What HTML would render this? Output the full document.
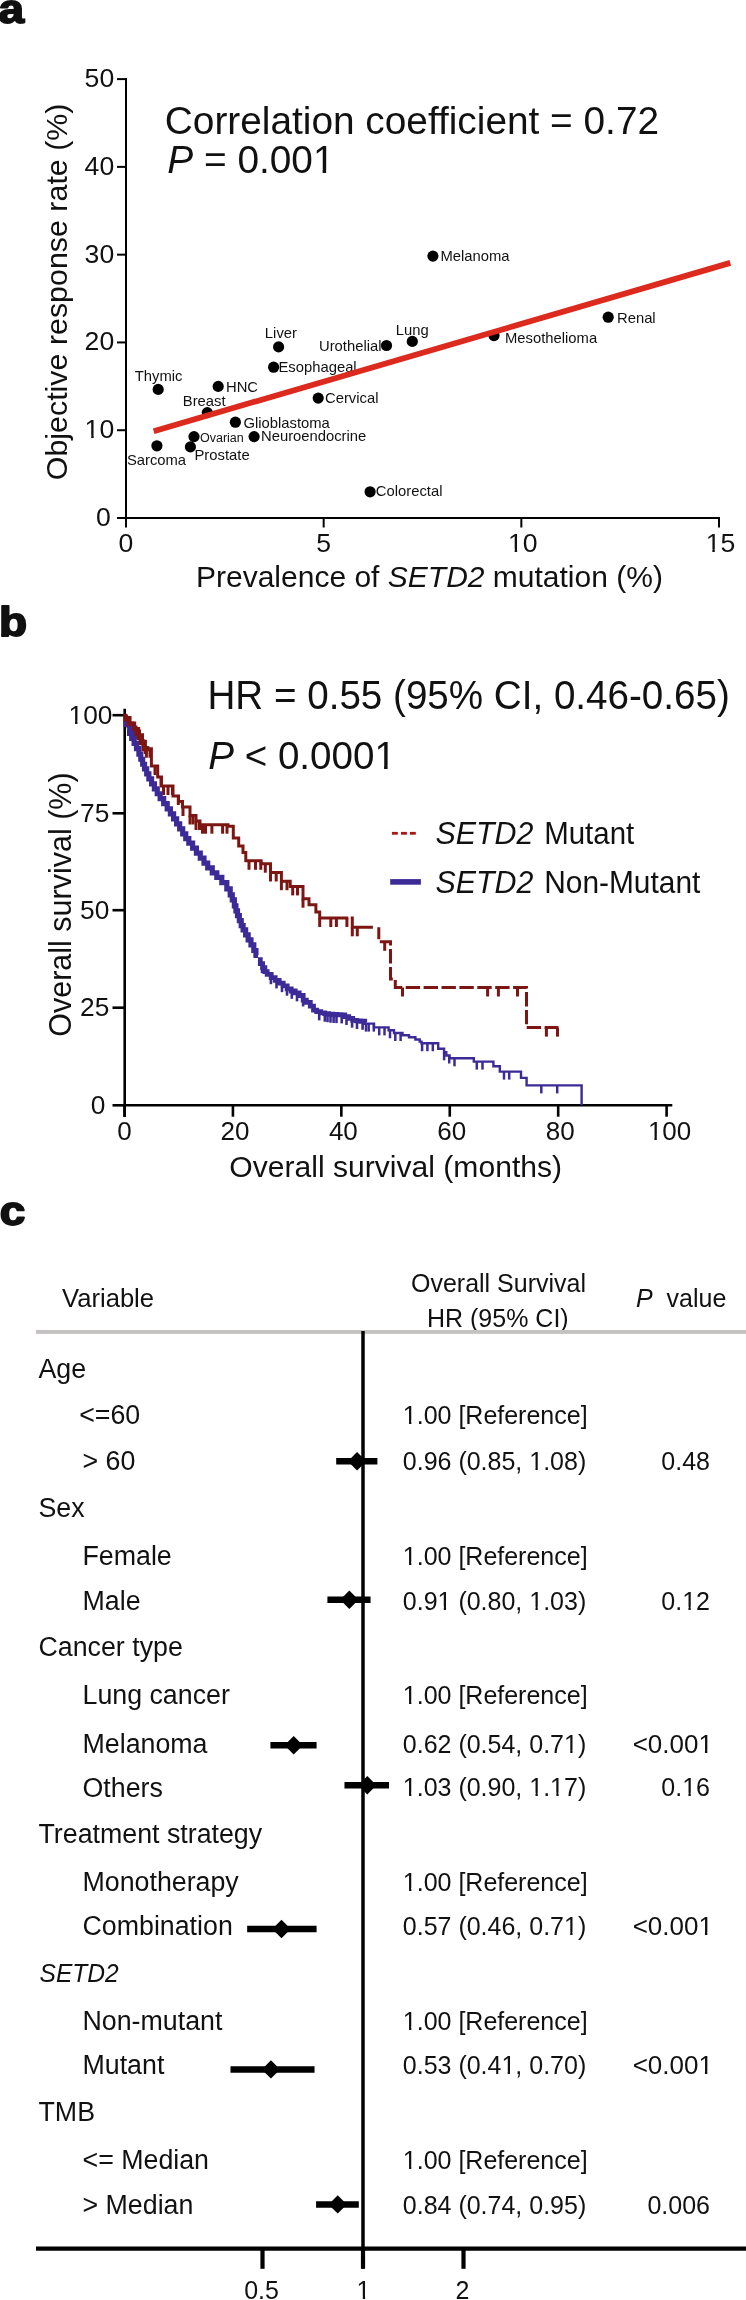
<!DOCTYPE html>
<html><head><meta charset="utf-8"><style>
html,body{margin:0;padding:0;background:#fff;width:746px;height:2300px;overflow:hidden}
svg{display:block;will-change:transform}
text{font-family:"Liberation Sans",sans-serif}
</style></head><body>
<svg width="746" height="2300" viewBox="0 0 746 2300" font-family="Liberation Sans, sans-serif" fill="#111"><text transform="translate(-1.5,22.5) scale(1.13,1)" font-size="40.7" font-weight="bold" stroke="#111" stroke-width="1.8" stroke-linejoin="round" fill="#111">a</text>
<text transform="translate(-0.9,636) scale(1.13,1)" font-size="40.7" font-weight="bold" stroke="#111" stroke-width="1.8" stroke-linejoin="round" fill="#111">b</text>
<text transform="translate(-0.3,1224.6) scale(1.13,1)" font-size="40.7" font-weight="bold" stroke="#111" stroke-width="1.8" stroke-linejoin="round" fill="#111">c</text>
<line x1="126" y1="78.1" x2="126" y2="519" stroke="#000" stroke-width="2" />
<line x1="125" y1="518" x2="720" y2="518" stroke="#000" stroke-width="2" />
<line x1="117" y1="518.0" x2="126" y2="518.0" stroke="#000" stroke-width="2" />
<text transform="translate(110.9,526.0) scale(1.0,1)" font-size="26.6" text-anchor="end" >0</text>
<line x1="117" y1="430.22" x2="126" y2="430.22" stroke="#000" stroke-width="2" />
<text transform="translate(114.2,438.22) scale(1.0,1)" font-size="26.6" text-anchor="end" >10</text>
<line x1="117" y1="342.44000000000005" x2="126" y2="342.44000000000005" stroke="#000" stroke-width="2" />
<text transform="translate(114.2,350.44000000000005) scale(1.0,1)" font-size="26.6" text-anchor="end" >20</text>
<line x1="117" y1="254.66000000000003" x2="126" y2="254.66000000000003" stroke="#000" stroke-width="2" />
<text transform="translate(114.2,262.66) scale(1.0,1)" font-size="26.6" text-anchor="end" >30</text>
<line x1="117" y1="166.88000000000005" x2="126" y2="166.88000000000005" stroke="#000" stroke-width="2" />
<text transform="translate(114.2,174.88000000000005) scale(1.0,1)" font-size="26.6" text-anchor="end" >40</text>
<line x1="117" y1="79.10000000000008" x2="126" y2="79.10000000000008" stroke="#000" stroke-width="2" />
<text transform="translate(114.2,87.10000000000008) scale(1.0,1)" font-size="26.6" text-anchor="end" >50</text>
<line x1="126.0" y1="517" x2="126.0" y2="527.5" stroke="#000" stroke-width="2" />
<text transform="translate(126.0,552) scale(1.0,1)" font-size="26.6" text-anchor="middle" >0</text>
<line x1="323.66666666666663" y1="517" x2="323.66666666666663" y2="527.5" stroke="#000" stroke-width="2" />
<text transform="translate(323.66666666666663,552) scale(1.0,1)" font-size="26.6" text-anchor="middle" >5</text>
<line x1="521.3333333333333" y1="517" x2="521.3333333333333" y2="527.5" stroke="#000" stroke-width="2" />
<text transform="translate(522.8333333333333,552) scale(1.0,1)" font-size="26.6" text-anchor="middle" >10</text>
<line x1="719.0" y1="517" x2="719.0" y2="527.5" stroke="#000" stroke-width="2" />
<text transform="translate(720.5,552) scale(1.0,1)" font-size="26.6" text-anchor="middle" >15</text>
<text transform="translate(164.8,133.8) scale(1.0,1)" font-size="38.8" >Correlation coefficient = 0.72</text>
<text transform="translate(167.3,173.3) scale(1.0,1)" font-size="38.8" ><tspan font-style="italic">P</tspan> = 0.001</text>
<text transform="translate(196,586.7) scale(1.0,1)" font-size="30.0" >Prevalence of <tspan font-style="italic">SETD2</tspan> mutation (%)</text>
<text transform="translate(66.6,291.9) rotate(-90)" font-size="30.4" text-anchor="middle">Objective response rate (%)</text>
<circle cx="158.2" cy="389.4" r="5.6" fill="#000"/>
<text transform="translate(158.6,380.8) scale(1.0,1)" font-size="14.8" text-anchor="middle" >Thymic</text>
<circle cx="156.9" cy="445.8" r="5.6" fill="#000"/>
<text transform="translate(156.5,465.1) scale(1.0,1)" font-size="14.8" text-anchor="middle" >Sarcoma</text>
<circle cx="218.2" cy="386.4" r="5.6" fill="#000"/>
<text transform="translate(226,391.5) scale(1.0,1)" font-size="14.8" >HNC</text>
<circle cx="207.3" cy="412.6" r="5.6" fill="#000"/>
<text transform="translate(204.2,406.1) scale(1.0,1)" font-size="14.8" text-anchor="middle" >Breast</text>
<circle cx="194" cy="436.6" r="5.6" fill="#000"/>
<text transform="translate(200,442.2) scale(1.0,1)" font-size="12.5" >Ovarian</text>
<circle cx="190.4" cy="446.9" r="5.6" fill="#000"/>
<text transform="translate(194.5,460.2) scale(1.0,1)" font-size="14.8" >Prostate</text>
<circle cx="235.4" cy="422.2" r="5.6" fill="#000"/>
<text transform="translate(243.5,427.5) scale(1.0,1)" font-size="14.8" >Glioblastoma</text>
<circle cx="254.1" cy="436.6" r="5.6" fill="#000"/>
<text transform="translate(261,441.4) scale(1.0,1)" font-size="14.8" >Neuroendocrine</text>
<circle cx="278.6" cy="346.9" r="5.6" fill="#000"/>
<text transform="translate(280.9,337.8) scale(1.0,1)" font-size="14.8" text-anchor="middle" >Liver</text>
<circle cx="273.6" cy="367.2" r="5.6" fill="#000"/>
<text transform="translate(278.5,372) scale(1.0,1)" font-size="14.8" >Esophageal</text>
<circle cx="318.2" cy="398.1" r="5.6" fill="#000"/>
<text transform="translate(325,402.9) scale(1.0,1)" font-size="14.8" >Cervical</text>
<circle cx="370.1" cy="491.8" r="5.6" fill="#000"/>
<text transform="translate(375.8,496.4) scale(1.0,1)" font-size="14.8" >Colorectal</text>
<circle cx="386.5" cy="345.5" r="5.6" fill="#000"/>
<text transform="translate(381.5,350.5) scale(1.0,1)" font-size="14.8" text-anchor="end" >Urothelial</text>
<circle cx="412.3" cy="341.4" r="5.6" fill="#000"/>
<text transform="translate(412.2,335.3) scale(1.0,1)" font-size="14.8" text-anchor="middle" >Lung</text>
<circle cx="494" cy="335.6" r="5.6" fill="#000"/>
<text transform="translate(505,343) scale(1.0,1)" font-size="14.8" >Mesothelioma</text>
<circle cx="608.2" cy="317.2" r="5.6" fill="#000"/>
<text transform="translate(617,322.7) scale(1.0,1)" font-size="14.8" >Renal</text>
<circle cx="432.9" cy="256.1" r="5.6" fill="#000"/>
<text transform="translate(440.5,260.9) scale(1.0,1)" font-size="14.8" >Melanoma</text>
<line x1="153.7" y1="431.2" x2="730.3" y2="262.9" stroke="#dc2a1e" stroke-width="5.8"/>
<text transform="translate(207.5,709) scale(0.9709,1)" font-size="39.76" >HR = 0.55 (95% CI, 0.46-0.65)</text>
<text transform="translate(208.2,769.3) scale(1.0,1)" font-size="38.6" ><tspan font-style="italic">P</tspan> &lt; 0.0001</text>
<line x1="124.7" y1="708.8" x2="124.7" y2="1117" stroke="#000" stroke-width="2.6" />
<line x1="123.4" y1="1105.3" x2="672.3" y2="1105.3" stroke="#000" stroke-width="2.6" />
<line x1="112.5" y1="715.2" x2="124.7" y2="715.2" stroke="#000" stroke-width="2.6" />
<text transform="translate(112.4,723.6) scale(1.0,1)" font-size="26.3" text-anchor="end" >100</text>
<line x1="112.5" y1="813.3" x2="124.7" y2="813.3" stroke="#000" stroke-width="2.6" />
<text transform="translate(109.3,821.6999999999999) scale(1.0,1)" font-size="26.3" text-anchor="end" >75</text>
<line x1="112.5" y1="910.2" x2="124.7" y2="910.2" stroke="#000" stroke-width="2.6" />
<text transform="translate(109.3,918.6) scale(1.0,1)" font-size="26.3" text-anchor="end" >50</text>
<line x1="112.5" y1="1007.7" x2="124.7" y2="1007.7" stroke="#000" stroke-width="2.6" />
<text transform="translate(109.3,1016.1) scale(1.0,1)" font-size="26.3" text-anchor="end" >25</text>
<line x1="112.5" y1="1105.3" x2="124.7" y2="1105.3" stroke="#000" stroke-width="2.6" />
<text transform="translate(105.4,1113.7) scale(1.0,1)" font-size="26.3" text-anchor="end" >0</text>
<line x1="124.5" y1="1104" x2="124.5" y2="1116.7" stroke="#000" stroke-width="2.6" />
<text transform="translate(124.5,1140.4) scale(1.0,1)" font-size="26.0" text-anchor="middle" >0</text>
<line x1="232.92000000000002" y1="1104" x2="232.92000000000002" y2="1116.7" stroke="#000" stroke-width="2.6" />
<text transform="translate(234.92000000000002,1140.4) scale(1.0,1)" font-size="26.0" text-anchor="middle" >20</text>
<line x1="341.34000000000003" y1="1104" x2="341.34000000000003" y2="1116.7" stroke="#000" stroke-width="2.6" />
<text transform="translate(343.34000000000003,1140.4) scale(1.0,1)" font-size="26.0" text-anchor="middle" >40</text>
<line x1="449.76" y1="1104" x2="449.76" y2="1116.7" stroke="#000" stroke-width="2.6" />
<text transform="translate(451.76,1140.4) scale(1.0,1)" font-size="26.0" text-anchor="middle" >60</text>
<line x1="558.1800000000001" y1="1104" x2="558.1800000000001" y2="1116.7" stroke="#000" stroke-width="2.6" />
<text transform="translate(560.1800000000001,1140.4) scale(1.0,1)" font-size="26.0" text-anchor="middle" >80</text>
<line x1="666.6" y1="1104" x2="666.6" y2="1116.7" stroke="#000" stroke-width="2.6" />
<text transform="translate(669.6,1140.4) scale(1.0,1)" font-size="26.0" text-anchor="middle" >100</text>
<path d="M124.70,718.75 H128.80 V724.25 H133.42 V729.84 H137.35 V735.98 H141.28 V742.54 H144.19 V748.69 H146.55 V751.28 H147.50" fill="none" stroke="#7d1612" stroke-width="5.5" stroke-linejoin="miter"/>
<path d="M124.7,716 H126.5 V719.5 H129.5 V723 H132.5 V727 H136 V731 H139.5 V736 H142 V741 H143.5 V748.7 H151.4 V766 H157.7 V777 H161.5 V786 H173 V796 H178.5 V801.5 H182.5 V807 H190 V815.5 H196 V821 H200 V824.7 H228 V826.3 H233.3 V838 H238.7 V846 H243 V852.5 H245.8 V860.8 H261.1 V863.7 H270.5 V872.5 H281.4 V881.2 H290.2 V886.4 H303 V898.7 H309 V904.7 H315.9 V912 H319.7 V918 H348.3 M350.7,918 H352.3 V927.3 H372.9" fill="none" stroke="#7d1612" stroke-width="3" stroke-linejoin="miter"/>
<path d="M378.8,927.3 V941.8 H390.5 V979 H395.3 V987.5 H526.5 V1027.6 H558.4" fill="none" stroke="#7d1612" stroke-width="3" stroke-dasharray="14.4 3.5" stroke-dashoffset="2.4" stroke-linejoin="miter"/>
<line x1="128" y1="719.5" x2="128" y2="728.5" stroke="#7d1612" stroke-width="3" />
<line x1="131" y1="723" x2="131" y2="732" stroke="#7d1612" stroke-width="3" />
<line x1="134" y1="727" x2="134" y2="736" stroke="#7d1612" stroke-width="3" />
<line x1="138" y1="731" x2="138" y2="740" stroke="#7d1612" stroke-width="3" />
<line x1="146.4" y1="748.7" x2="146.4" y2="757.7" stroke="#7d1612" stroke-width="3" />
<line x1="150" y1="748.7" x2="150" y2="757.7" stroke="#7d1612" stroke-width="3" />
<line x1="155" y1="766" x2="155" y2="775" stroke="#7d1612" stroke-width="3" />
<line x1="161" y1="777" x2="161" y2="786" stroke="#7d1612" stroke-width="3" />
<line x1="163.5" y1="786" x2="163.5" y2="795" stroke="#7d1612" stroke-width="3" />
<line x1="168" y1="786" x2="168" y2="795" stroke="#7d1612" stroke-width="3" />
<line x1="172.5" y1="786" x2="172.5" y2="795" stroke="#7d1612" stroke-width="3" />
<line x1="178.3" y1="796" x2="178.3" y2="805" stroke="#7d1612" stroke-width="3" />
<line x1="183" y1="807" x2="183" y2="816" stroke="#7d1612" stroke-width="3" />
<line x1="190" y1="815.5" x2="190" y2="824.5" stroke="#7d1612" stroke-width="3" />
<line x1="193" y1="815.5" x2="193" y2="824.5" stroke="#7d1612" stroke-width="3" />
<line x1="196" y1="821" x2="196" y2="830" stroke="#7d1612" stroke-width="3" />
<line x1="199.5" y1="821" x2="199.5" y2="830" stroke="#7d1612" stroke-width="3" />
<line x1="202.5" y1="824.7" x2="202.5" y2="833.7" stroke="#7d1612" stroke-width="3" />
<line x1="205.5" y1="824.7" x2="205.5" y2="833.7" stroke="#7d1612" stroke-width="3" />
<line x1="211.9" y1="824.7" x2="211.9" y2="833.7" stroke="#7d1612" stroke-width="3" />
<line x1="222.6" y1="824.7" x2="222.6" y2="833.7" stroke="#7d1612" stroke-width="3" />
<line x1="227" y1="824.7" x2="227" y2="833.7" stroke="#7d1612" stroke-width="3" />
<line x1="249" y1="860.8" x2="249" y2="869.8" stroke="#7d1612" stroke-width="3" />
<line x1="255.5" y1="860.8" x2="255.5" y2="869.8" stroke="#7d1612" stroke-width="3" />
<line x1="260.8" y1="860.8" x2="260.8" y2="869.8" stroke="#7d1612" stroke-width="3" />
<line x1="265.3" y1="863.7" x2="265.3" y2="872.7" stroke="#7d1612" stroke-width="3" />
<line x1="270.5" y1="872.5" x2="270.5" y2="881.5" stroke="#7d1612" stroke-width="3" />
<line x1="276.2" y1="872.5" x2="276.2" y2="881.5" stroke="#7d1612" stroke-width="3" />
<line x1="281.4" y1="881.2" x2="281.4" y2="890.2" stroke="#7d1612" stroke-width="3" />
<line x1="287" y1="881.2" x2="287" y2="890.2" stroke="#7d1612" stroke-width="3" />
<line x1="292.7" y1="886.4" x2="292.7" y2="895.4" stroke="#7d1612" stroke-width="3" />
<line x1="297.5" y1="886.4" x2="297.5" y2="895.4" stroke="#7d1612" stroke-width="3" />
<line x1="303" y1="898.7" x2="303" y2="907.7" stroke="#7d1612" stroke-width="3" />
<line x1="319.7" y1="918" x2="319.7" y2="927" stroke="#7d1612" stroke-width="3" />
<line x1="330.8" y1="918" x2="330.8" y2="927" stroke="#7d1612" stroke-width="3" />
<line x1="336.4" y1="918" x2="336.4" y2="927" stroke="#7d1612" stroke-width="3" />
<line x1="346.9" y1="918" x2="346.9" y2="927" stroke="#7d1612" stroke-width="3" />
<line x1="352.3" y1="927.3" x2="352.3" y2="936.3" stroke="#7d1612" stroke-width="3" />
<line x1="357.3" y1="927.3" x2="357.3" y2="936.3" stroke="#7d1612" stroke-width="3" />
<line x1="384.7" y1="941.8" x2="384.7" y2="950.8" stroke="#7d1612" stroke-width="3" />
<line x1="402.5" y1="987.5" x2="402.5" y2="996.5" stroke="#7d1612" stroke-width="3" />
<line x1="487.6" y1="987.5" x2="487.6" y2="996.5" stroke="#7d1612" stroke-width="3" />
<line x1="498.4" y1="987.5" x2="498.4" y2="996.5" stroke="#7d1612" stroke-width="3" />
<line x1="517.5" y1="987.5" x2="517.5" y2="996.5" stroke="#7d1612" stroke-width="3" />
<line x1="546.4" y1="1027.6" x2="546.4" y2="1036.6" stroke="#7d1612" stroke-width="3" />
<line x1="557.5" y1="1027.6" x2="557.5" y2="1036.6" stroke="#7d1612" stroke-width="3" />
<path d="M127.50,728.50 H129.61 V733.50 H131.71 V738.44 H134.11 V743.44 H136.51 V748.56 H138.91 V754.26 H140.79 V759.26 H142.66 V764.23 H144.54 V768.90 H146.70 V773.90 H148.86 V778.86 H151.58 V783.79 H154.38 V788.78 H157.26 V793.76 H160.15 V798.71 H163.68 V803.71 H167.20 V808.79 H170.39 V813.79 H173.58 V818.80 H176.63 V823.80 H179.67 V828.80 H182.72 V833.80 H185.77 V838.64 H188.81 V843.14 H192.62 V848.13 H196.42 V853.10 H200.28 V858.10 H204.00 V863.10 H207.72 V867.83 H212.27 V872.83 H216.82 V877.46 H221.82 V882.71 H226.82 V888.89 H230.21 V894.83 H232.29 V899.94 H234.38 V905.80 H235.93 V910.80 H237.48 V915.64 H239.35 V920.64 H241.23 V925.53 H243.10 V929.89 H245.63 V934.89 H248.15 V939.79 H250.97 V944.79 H253.80 V950.49 H255.96 V955.35 H258.00" fill="none" stroke="#3c2b96" stroke-width="5.2" stroke-linejoin="miter"/>
<rect x="123.3" y="721.3" width="3.6" height="5.8" fill="#3c2b96"/>
<rect x="123.3" y="713.8" width="3.6" height="7.6" fill="#7d1612"/>
<path d="M258.00,959.70 H260.30 V963.70 H262.60 V967.70 H264.89 V971.70 H267.19 V974.31 H271.19 V977.56 H275.19 V980.40 H279.19 V983.12 H283.19 V985.93 H287.19 V988.78 H291.19 V990.98 H295.19 V992.95 H299.19 V995.52 H303.19 V1000.04 H306.32 V1002.31 H310.32 V1006.16 H313.52 V1010.06 H316.72 V1011.66 H320.72 V1012.87 H324.72 V1013.56 H328.72 V1014.25 H332.72 V1014.51 H336.72 V1014.74 H340.72 V1014.97 H344.72 V1016.57 H348.72 V1018.46 H352.72 V1020.34 H356.72 V1020.80 H360.72 V1021.27 H364.72 V1022.57 H366.00" fill="none" stroke="#3c2b96" stroke-width="4.8" stroke-linejoin="miter"/>
<line x1="262" y1="964.662962962963" x2="262" y2="973.162962962963" stroke="#3c2b96" stroke-width="2.6" />
<line x1="270.9" y1="975.6999999999999" x2="270.9" y2="984.1999999999999" stroke="#3c2b96" stroke-width="2.6" />
<line x1="276.5" y1="979.9296296296296" x2="276.5" y2="988.4296296296296" stroke="#3c2b96" stroke-width="2.6" />
<line x1="282" y1="983.6641975308642" x2="282" y2="992.1641975308642" stroke="#3c2b96" stroke-width="2.6" />
<line x1="287" y1="987.22" x2="287" y2="995.72" stroke="#3c2b96" stroke-width="2.6" />
<line x1="291.8" y1="990.2901234567902" x2="291.8" y2="998.7901234567902" stroke="#3c2b96" stroke-width="2.6" />
<line x1="297" y1="992.858024691358" x2="297" y2="1001.358024691358" stroke="#3c2b96" stroke-width="2.6" />
<line x1="303.1" y1="997.9574468085107" x2="303.1" y2="1006.4574468085107" stroke="#3c2b96" stroke-width="2.6" />
<line x1="319.2" y1="1011.875" x2="319.2" y2="1020.375" stroke="#3c2b96" stroke-width="2.6" />
<line x1="324.8" y1="1013.2269230769231" x2="324.8" y2="1021.7269230769231" stroke="#3c2b96" stroke-width="2.6" />
<line x1="327.5" y1="1013.6942307692308" x2="327.5" y2="1022.1942307692308" stroke="#3c2b96" stroke-width="2.6" />
<line x1="330.5" y1="1014.2134615384615" x2="330.5" y2="1022.7134615384615" stroke="#3c2b96" stroke-width="2.6" />
<line x1="333.6" y1="1014.4491803278688" x2="333.6" y2="1022.9491803278688" stroke="#3c2b96" stroke-width="2.6" />
<line x1="336.5" y1="1014.6155737704918" x2="336.5" y2="1023.1155737704918" stroke="#3c2b96" stroke-width="2.6" />
<line x1="341.7" y1="1014.9139344262295" x2="341.7" y2="1023.4139344262295" stroke="#3c2b96" stroke-width="2.6" />
<line x1="346.5" y1="1016.4732142857143" x2="346.5" y2="1024.9732142857142" stroke="#3c2b96" stroke-width="2.6" />
<line x1="352.1" y1="1019.15" x2="352.1" y2="1027.65" stroke="#3c2b96" stroke-width="2.6" />
<line x1="357" y1="1020.6029126213592" x2="357" y2="1029.1029126213593" stroke="#3c2b96" stroke-width="2.6" />
<line x1="362.6" y1="1021.2553398058252" x2="362.6" y2="1029.7553398058253" stroke="#3c2b96" stroke-width="2.6" />
<path d="M365,1023.6 H374 V1027.4 H388.6 V1030.3 H394 V1033 H402.5 V1035.2 H409 V1037.3 H415.4 V1039.5 H419.7 V1041.6 H421.5 V1043.2 H438.2 V1048.8 H444.1 V1052.3 H446.3 V1055.5 H449.5 V1058.3 H473.8 V1061.6 H493.4 V1066.2 H499.8 V1071.6 H521 V1077.9 H526.6 V1085.4 H581.6 V1105.3" fill="none" stroke="#3c2b96" stroke-width="2.4"/>
<line x1="366" y1="1023.6" x2="366" y2="1031.6" stroke="#3c2b96" stroke-width="2.5" />
<line x1="368.7" y1="1023.6" x2="368.7" y2="1031.6" stroke="#3c2b96" stroke-width="2.5" />
<line x1="373.8" y1="1023.6" x2="373.8" y2="1031.6" stroke="#3c2b96" stroke-width="2.5" />
<line x1="379.2" y1="1027.4" x2="379.2" y2="1035.4" stroke="#3c2b96" stroke-width="2.5" />
<line x1="384.5" y1="1027.4" x2="384.5" y2="1035.4" stroke="#3c2b96" stroke-width="2.5" />
<line x1="390" y1="1030.3" x2="390" y2="1038.3" stroke="#3c2b96" stroke-width="2.5" />
<line x1="395.3" y1="1033" x2="395.3" y2="1041" stroke="#3c2b96" stroke-width="2.5" />
<line x1="400.6" y1="1033" x2="400.6" y2="1041" stroke="#3c2b96" stroke-width="2.5" />
<line x1="422.1" y1="1043.2" x2="422.1" y2="1051.2" stroke="#3c2b96" stroke-width="2.5" />
<line x1="427.4" y1="1043.2" x2="427.4" y2="1051.2" stroke="#3c2b96" stroke-width="2.5" />
<line x1="432.8" y1="1043.2" x2="432.8" y2="1051.2" stroke="#3c2b96" stroke-width="2.5" />
<line x1="444.1" y1="1052.3" x2="444.1" y2="1060.3" stroke="#3c2b96" stroke-width="2.5" />
<line x1="449.2" y1="1055.5" x2="449.2" y2="1063.5" stroke="#3c2b96" stroke-width="2.5" />
<line x1="454.5" y1="1058.3" x2="454.5" y2="1066.3" stroke="#3c2b96" stroke-width="2.5" />
<line x1="476.8" y1="1061.6" x2="476.8" y2="1069.6" stroke="#3c2b96" stroke-width="2.5" />
<line x1="482.5" y1="1061.6" x2="482.5" y2="1069.6" stroke="#3c2b96" stroke-width="2.5" />
<line x1="504" y1="1071.6" x2="504" y2="1079.6" stroke="#3c2b96" stroke-width="2.5" />
<line x1="509.2" y1="1071.6" x2="509.2" y2="1079.6" stroke="#3c2b96" stroke-width="2.5" />
<line x1="541.3" y1="1085.4" x2="541.3" y2="1093.4" stroke="#3c2b96" stroke-width="2.5" />
<line x1="557.2" y1="1085.4" x2="557.2" y2="1093.4" stroke="#3c2b96" stroke-width="2.5" />
<text transform="translate(71,904.6) rotate(-90)" font-size="30.5" text-anchor="middle">Overall survival (%)</text>
<text transform="translate(229.3,1177.3) scale(1.0,1)" font-size="30.1" >Overall survival (months)</text>
<rect x="391.9" y="831.9" width="5.9" height="2.8" fill="#a81818"/>
<rect x="401" y="831.9" width="5.9" height="2.8" fill="#a81818"/>
<rect x="409.9" y="831.9" width="5.9" height="2.8" fill="#a81818"/>
<rect x="390.2" y="879.1" width="30.7" height="5.6" fill="#3c2b96"/>
<text transform="translate(435.5,844) scale(0.962,1)" font-size="31.6" font-style="italic">SETD2</text>
<text transform="translate(435.5,892.6) scale(0.962,1)" font-size="31.6" font-style="italic">SETD2</text>
<text transform="translate(544.2,844) scale(0.938,1)" font-size="31.4" >Mutant</text>
<text transform="translate(544.2,892.6) scale(0.952,1)" font-size="31.4" >Non-Mutant</text>
<text transform="translate(62,1306.9) scale(0.9762,1)" font-size="26.25" >Variable</text>
<text transform="translate(411,1291.8) scale(0.9524,1)" font-size="26.25" >Overall Survival</text>
<text transform="translate(427,1327.2) scale(0.9524,1)" font-size="26.25" >HR (95% CI)</text>
<text transform="translate(636,1306.8) scale(0.9524,1)" font-size="26.25" style="white-space:pre" ><tspan font-style="italic">P</tspan>  value</text>
<rect x="36" y="1330" width="710" height="3.9" fill="#c5c2c2"/>
<text transform="translate(38.5,1378) scale(1.0,1)" font-size="26.78" >Age</text>
<text transform="translate(79.2,1423.7) scale(1.0,1)" font-size="26.78" >&lt;=60</text>
<text transform="translate(402.8,1423.7) scale(0.9524,1)" font-size="26.25" >1.00 [Reference]</text>
<text transform="translate(82.5,1470.3) scale(1.0,1)" font-size="26.78" >&gt; 60</text>
<text transform="translate(402.8,1470.3) scale(0.9524,1)" font-size="26.25" >0.96 (0.85, 1.08)</text>
<text transform="translate(710,1470.3) scale(0.9524,1)" font-size="26.25" text-anchor="end" >0.48</text>
<text transform="translate(38.5,1517.2) scale(1.0,1)" font-size="26.78" >Sex</text>
<text transform="translate(82.5,1564.5) scale(1.0,1)" font-size="26.78" >Female</text>
<text transform="translate(402.8,1564.5) scale(0.9524,1)" font-size="26.25" >1.00 [Reference]</text>
<text transform="translate(82.5,1609.6) scale(1.0,1)" font-size="26.78" >Male</text>
<text transform="translate(402.8,1609.6) scale(0.9524,1)" font-size="26.25" >0.91 (0.80, 1.03)</text>
<text transform="translate(710,1609.6) scale(0.9524,1)" font-size="26.25" text-anchor="end" >0.12</text>
<text transform="translate(38.5,1656.4) scale(1.0,1)" font-size="26.78" >Cancer type</text>
<text transform="translate(82.5,1704.2) scale(1.0,1)" font-size="26.78" >Lung cancer</text>
<text transform="translate(402.8,1704.2) scale(0.9524,1)" font-size="26.25" >1.00 [Reference]</text>
<text transform="translate(82.5,1753.4) scale(1.0,1)" font-size="26.78" >Melanoma</text>
<text transform="translate(402.8,1753.4) scale(0.9524,1)" font-size="26.25" >0.62 (0.54, 0.71)</text>
<text transform="translate(712.9,1753.4) scale(0.9905,1)" font-size="26.25" text-anchor="end" >&lt;0.001</text>
<text transform="translate(82.5,1796.7) scale(1.0,1)" font-size="26.78" >Others</text>
<text transform="translate(402.8,1795.5) scale(0.9524,1)" font-size="26.25" >1.03 (0.90, 1.17)</text>
<text transform="translate(710,1795.5) scale(0.9524,1)" font-size="26.25" text-anchor="end" >0.16</text>
<text transform="translate(38.5,1843) scale(1.0,1)" font-size="26.78" >Treatment strategy</text>
<text transform="translate(82.5,1890.6) scale(1.0,1)" font-size="26.78" >Monotherapy</text>
<text transform="translate(402.8,1890.6) scale(0.9524,1)" font-size="26.25" >1.00 [Reference]</text>
<text transform="translate(82.5,1935.1) scale(1.0,1)" font-size="26.78" >Combination</text>
<text transform="translate(402.8,1935.1) scale(0.9524,1)" font-size="26.25" >0.57 (0.46, 0.71)</text>
<text transform="translate(712.9,1935.1) scale(0.9905,1)" font-size="26.25" text-anchor="end" >&lt;0.001</text>
<text transform="translate(39.5,1982.2) scale(0.9524,1)" font-size="25.83" ><tspan font-style="italic">SETD2</tspan></text>
<text transform="translate(82.5,2029.7) scale(1.0,1)" font-size="26.78" >Non-mutant</text>
<text transform="translate(402.8,2029.7) scale(0.9524,1)" font-size="26.25" >1.00 [Reference]</text>
<text transform="translate(82.5,2074.4) scale(1.0,1)" font-size="26.78" >Mutant</text>
<text transform="translate(402.8,2074.4) scale(0.9524,1)" font-size="26.25" >0.53 (0.41, 0.70)</text>
<text transform="translate(712.9,2074.4) scale(0.9905,1)" font-size="26.25" text-anchor="end" >&lt;0.001</text>
<text transform="translate(38.5,2121.2) scale(1.0,1)" font-size="26.78" >TMB</text>
<text transform="translate(82.5,2169.3) scale(1.0,1)" font-size="26.78" >&lt;= Median</text>
<text transform="translate(402.8,2169.3) scale(0.9524,1)" font-size="26.25" >1.00 [Reference]</text>
<text transform="translate(82.5,2213.6) scale(1.0,1)" font-size="26.78" >&gt; Median</text>
<text transform="translate(402.8,2213.6) scale(0.9524,1)" font-size="26.25" >0.84 (0.74, 0.95)</text>
<text transform="translate(710,2213.6) scale(0.9524,1)" font-size="26.25" text-anchor="end" >0.006</text>
<line x1="363.0" y1="1331" x2="363.0" y2="2268.5" stroke="#000" stroke-width="3.5" />
<line x1="339.44" y1="1461.3" x2="374.16" y2="1461.3" stroke="#000" stroke-width="6.5" stroke-linecap="square"/>
<polygon points="347.88,1461.3 357.08,1452.1 366.28,1461.3 357.08,1470.5" fill="#000"/>
<line x1="330.65" y1="1599.7" x2="367.29" y2="1599.7" stroke="#000" stroke-width="6.5" stroke-linecap="square"/>
<polygon points="340.13,1599.7 349.33,1590.5 358.53,1599.7 349.33,1608.9" fill="#000"/>
<line x1="273.66" y1="1745.3" x2="313.34" y2="1745.3" stroke="#000" stroke-width="6.5" stroke-linecap="square"/>
<polygon points="284.49,1745.3 293.69,1736.1 302.89,1745.3 293.69,1754.5" fill="#000"/>
<line x1="347.72" y1="1785.2" x2="385.76" y2="1785.2" stroke="#000" stroke-width="6.5" stroke-linecap="square"/>
<polygon points="358.09,1785.2 367.29,1776.0 376.49,1785.2 367.29,1794.4" fill="#000"/>
<line x1="250.41" y1="1929" x2="313.34" y2="1929" stroke="#000" stroke-width="6.5" stroke-linecap="square"/>
<polygon points="272.30,1929 281.50,1919.8 290.70,1929 281.50,1938.2" fill="#000"/>
<line x1="233.73" y1="2069.4" x2="311.29" y2="2069.4" stroke="#000" stroke-width="6.5" stroke-linecap="square"/>
<polygon points="261.75,2069.4 270.95,2060.2000000000003 280.15,2069.4 270.95,2078.6" fill="#000"/>
<line x1="319.34" y1="2204.4" x2="355.56" y2="2204.4" stroke="#000" stroke-width="6.5" stroke-linecap="square"/>
<polygon points="328.52,2204.4 337.72,2195.2000000000003 346.92,2204.4 337.72,2213.6" fill="#000"/>
<line x1="36" y1="2248.6" x2="746" y2="2248.6" stroke="#000" stroke-width="4.2" />
<line x1="262.5" y1="2248" x2="262.5" y2="2268.8" stroke="#000" stroke-width="4.2" />
<text transform="translate(261.5,2299.3) scale(0.9524,1)" font-size="26.25" text-anchor="middle" >0.5</text>
<line x1="363.0" y1="2248" x2="363.0" y2="2268.8" stroke="#000" stroke-width="4.2" />
<text transform="translate(363.5,2299.3) scale(0.9524,1)" font-size="26.25" text-anchor="middle" >1</text>
<line x1="463.5" y1="2248" x2="463.5" y2="2268.8" stroke="#000" stroke-width="4.2" />
<text transform="translate(462.5,2299.3) scale(0.9524,1)" font-size="26.25" text-anchor="middle" >2</text><path transform="translate(114.2,438.22) scale(1.0,1)" d="M-28.87,-2.89H-22.95V0.70H-28.87Z M-20.51,-2.89H-14.80V0.70H-20.51Z" fill="#fff"/>
<path transform="translate(522.8333333333333,552) scale(1.0,1)" d="M-14.07,-2.89H-8.16V0.70H-14.07Z M-5.71,-2.89H-0.00V0.70H-5.71Z" fill="#fff"/>
<path transform="translate(720.5,552) scale(1.0,1)" d="M-14.07,-2.89H-8.16V0.70H-14.07Z M-5.71,-2.89H-0.00V0.70H-5.71Z" fill="#fff"/>
<path transform="translate(167.3,173.3) scale(1.0,1)" d="M147.27,-3.80H155.32V0.70H147.27Z M158.84,-3.80H166.59V0.70H158.84Z" fill="#fff"/>
<path transform="translate(208.2,769.3) scale(1.0,1)" d="M167.88,-3.78H175.89V0.70H167.88Z M179.40,-3.78H187.12V0.70H179.40Z" fill="#fff"/>
<path transform="translate(112.4,723.6) scale(1.0,1)" d="M-43.19,-2.86H-37.33V0.70H-43.19Z M-34.90,-2.86H-29.25V0.70H-34.90Z" fill="#fff"/>
<path transform="translate(669.6,1140.4) scale(1.0,1)" d="M-21.01,-2.84H-15.21V0.70H-21.01Z M-12.81,-2.84H-7.21V0.70H-12.81Z" fill="#fff"/>
<path transform="translate(402.8,1423.7) scale(0.9524,1)" d="M0.70,-2.86H6.55V0.70H0.70Z M8.97,-2.86H14.62V0.70H8.97Z" fill="#fff"/>
<path transform="translate(402.8,1470.3) scale(0.9524,1)" d="M133.45,-2.86H139.30V0.70H133.45Z M141.72,-2.86H147.36V0.70H141.72Z" fill="#fff"/>
<path transform="translate(402.8,1564.5) scale(0.9524,1)" d="M0.70,-2.86H6.55V0.70H0.70Z M8.97,-2.86H14.62V0.70H8.97Z" fill="#fff"/>
<path transform="translate(402.8,1609.6) scale(0.9524,1)" d="M37.17,-2.86H43.02V0.70H37.17Z M45.44,-2.86H51.08V0.70H45.44Z" fill="#fff"/>
<path transform="translate(402.8,1609.6) scale(0.9524,1)" d="M133.45,-2.86H139.30V0.70H133.45Z M141.72,-2.86H147.36V0.70H141.72Z" fill="#fff"/>
<path transform="translate(710,1609.6) scale(0.9524,1)" d="M-28.50,-2.86H-22.65V0.70H-28.50Z M-20.23,-2.86H-14.59V0.70H-20.23Z" fill="#fff"/>
<path transform="translate(402.8,1704.2) scale(0.9524,1)" d="M0.70,-2.86H6.55V0.70H0.70Z M8.97,-2.86H14.62V0.70H8.97Z" fill="#fff"/>
<path transform="translate(402.8,1753.4) scale(0.9524,1)" d="M169.93,-2.86H175.78V0.70H169.93Z M178.20,-2.86H183.85V0.70H178.20Z" fill="#fff"/>
<path transform="translate(712.9,1753.4) scale(0.9905,1)" d="M-13.90,-2.86H-8.05V0.70H-13.90Z M-5.63,-2.86H0.02V0.70H-5.63Z" fill="#fff"/>
<path transform="translate(402.8,1795.5) scale(0.9524,1)" d="M0.70,-2.86H6.55V0.70H0.70Z M8.97,-2.86H14.62V0.70H8.97Z" fill="#fff"/>
<path transform="translate(402.8,1795.5) scale(0.9524,1)" d="M133.45,-2.86H139.30V0.70H133.45Z M141.72,-2.86H147.36V0.70H141.72Z" fill="#fff"/>
<path transform="translate(402.8,1795.5) scale(0.9524,1)" d="M155.34,-2.86H161.19V0.70H155.34Z M163.61,-2.86H169.25V0.70H163.61Z" fill="#fff"/>
<path transform="translate(710,1795.5) scale(0.9524,1)" d="M-28.50,-2.86H-22.65V0.70H-28.50Z M-20.23,-2.86H-14.59V0.70H-20.23Z" fill="#fff"/>
<path transform="translate(402.8,1890.6) scale(0.9524,1)" d="M0.70,-2.86H6.55V0.70H0.70Z M8.97,-2.86H14.62V0.70H8.97Z" fill="#fff"/>
<path transform="translate(402.8,1935.1) scale(0.9524,1)" d="M169.93,-2.86H175.78V0.70H169.93Z M178.20,-2.86H183.85V0.70H178.20Z" fill="#fff"/>
<path transform="translate(712.9,1935.1) scale(0.9905,1)" d="M-13.90,-2.86H-8.05V0.70H-13.90Z M-5.63,-2.86H0.02V0.70H-5.63Z" fill="#fff"/>
<path transform="translate(402.8,2029.7) scale(0.9524,1)" d="M0.70,-2.86H6.55V0.70H0.70Z M8.97,-2.86H14.62V0.70H8.97Z" fill="#fff"/>
<path transform="translate(402.8,2074.4) scale(0.9524,1)" d="M104.28,-2.86H110.13V0.70H104.28Z M112.55,-2.86H118.19V0.70H112.55Z" fill="#fff"/>
<path transform="translate(712.9,2074.4) scale(0.9905,1)" d="M-13.90,-2.86H-8.05V0.70H-13.90Z M-5.63,-2.86H0.02V0.70H-5.63Z" fill="#fff"/>
<path transform="translate(402.8,2169.3) scale(0.9524,1)" d="M0.70,-2.86H6.55V0.70H0.70Z M8.97,-2.86H14.62V0.70H8.97Z" fill="#fff"/>
<path transform="translate(363.5,2299.3) scale(0.9524,1)" d="M-6.60,-2.86H-0.75V0.70H-6.60Z M1.67,-2.86H7.31V0.70H1.67Z" fill="#fff"/></svg>
</body></html>
